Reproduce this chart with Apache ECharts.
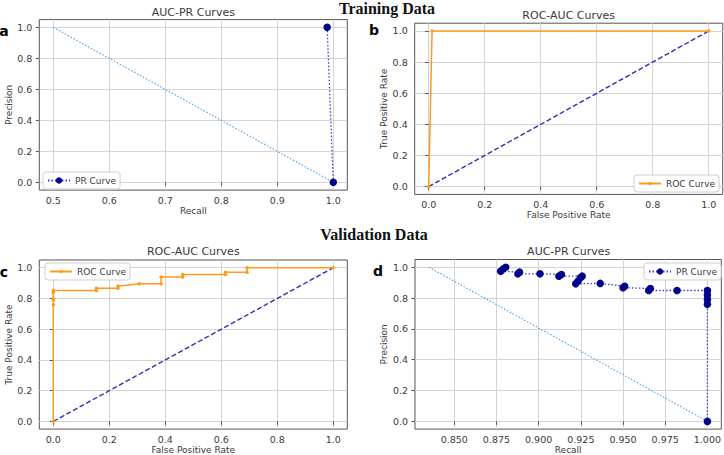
<!DOCTYPE html>
<html>
<head>
<meta charset="utf-8">
<script src="https://cdn.jsdelivr.net/npm/echarts@6/dist/echarts.min.js"></script>
<style>
html,body{margin:0;padding:0;background:#fff;}
#chart{width:724px;height:455px;}
</style>
</head>
<body>
<div id="chart"></div>
<script>
// ---------- data ----------
// Panel a: training PR curve
const aPrRecall = [0.989, 1.0];
const aPrPrecision = [1.0, 0.0];
const aRefRecall = [0.5, 1.0];
const aRefPrecision = [1.0, 0.0];
// Panel b: training ROC curve
const bRocFpr = [0.0, 0.012, 1.0];
const bRocTpr = [0.0, 1.0, 1.0];
// chance diagonal (b, c)
const diagFpr = [0.0, 1.0];
const diagTpr = [0.0, 1.0];
// Panel c: validation ROC curve
const cRocFpr = [0.0, 0.0, 0.0, 0.0, 0.0, 0.0, 0.154, 0.154, 0.231, 0.231, 0.308, 0.385, 0.385, 0.462, 0.462, 0.615, 0.615, 0.692, 0.692, 1.0];
const cRocTpr = [0.0, 0.759, 0.79, 0.80, 0.839, 0.852, 0.852, 0.866, 0.866, 0.88, 0.895, 0.895, 0.94, 0.94, 0.955, 0.955, 0.97, 0.97, 1.0, 1.0];
// Panel d: validation PR curve
const dPrRecall = [0.8805, 0.879, 0.8775, 0.8887, 0.8877, 0.9008, 0.9135, 0.912, 0.9258, 0.9248, 0.9234, 0.922, 0.9365, 0.951, 0.950, 0.9662, 0.9652, 0.982, 1.0, 1.0, 1.0, 1.0, 1.0];
const dPrPrecision = [1.0, 0.989, 0.974, 0.968, 0.957, 0.957, 0.953, 0.942, 0.942, 0.931, 0.910, 0.892, 0.895, 0.877, 0.867, 0.862, 0.849, 0.849, 0.849, 0.819, 0.791, 0.759, 0.0];
const dRefRecall = [0.835, 1.0];
const dRefPrecision = [1.0, 0.0];
// tick labels
const unitTicks = [0, 0.2, 0.4, 0.6, 0.8, 1.0];
const aRecallTicks = [0.5, 0.6, 0.7, 0.8, 0.9, 1.0];
const dRecallTicks = [0.85, 0.875, 0.9, 0.925, 0.95, 0.975, 1.0];
// texts
const panelTitles = ['AUC-PR Curves', 'ROC-AUC Curves', 'ROC-AUC Curves', 'AUC-PR Curves'];
const panelLetters = ['a', 'b', 'c', 'd'];
const sectionTitles = ['Training Data', 'Validation Data'];

// ---------- helpers ----------
function pairs(xs, ys) { return xs.map((x, i) => [x, ys[i]]); }
const TXT = '#3a3a3a';
const FONT = 'DejaVu Sans';

const grids = [
  {left: 39.3, top: 19.6, width: 308, height: 170.5},
  {left: 414.7, top: 23.2, width: 308, height: 171.2},
  {left: 39.3, top: 260, width: 308, height: 170.5},
  {left: 415, top: 259.5, width: 308, height: 171.6}
].map(g => Object.assign(g, {show: true, borderColor: '#555', borderWidth: 1, backgroundColor: '#fff', containLabel: false}));

function xAxis(gi, min, max, ticks, dec, name) {
  return {
    type: 'value', gridIndex: gi, min: min, max: max,
    name: name, nameLocation: 'middle', nameGap: 15,
    nameTextStyle: {fontFamily: FONT, fontSize: 9, color: TXT},
    axisLine: {show: false},
    axisTick: {show: true, inside: false, length: 3.5, customValues: ticks, lineStyle: {color: '#555', width: 1}},
    axisLabel: {customValues: ticks, margin: 5, fontFamily: FONT, fontSize: 9.5, color: TXT,
      formatter: v => Number(v).toFixed(dec)},
    splitLine: {show: true, lineStyle: {color: '#d4d4d4', width: 1}}
  };
}
function yAxis(gi, name) {
  return {
    type: 'value', gridIndex: gi, min: -0.05, max: 1.05,
    name: name, nameLocation: 'middle', nameGap: 25,
    nameTextStyle: {fontFamily: FONT, fontSize: 9, color: TXT},
    axisLine: {show: false},
    axisTick: {show: true, inside: false, length: 3.5, customValues: unitTicks, lineStyle: {color: '#555', width: 1}},
    axisLabel: {customValues: unitTicks, margin: 7, fontFamily: FONT, fontSize: 9.5, color: TXT,
      formatter: v => Number(v).toFixed(1)},
    splitLine: {show: true, lineStyle: {color: '#d4d4d4', width: 1}}
  };
}

const PR_LINE = '#3b3bd0', PR_MARK = '#00008b', REF = '#4aa0e0', ORANGE = '#ff9a1f', DIAG = '#2f2fb0';

function prSeries(gi, xs, ys) {
  return {
    type: 'line', name: 'PR Curve', xAxisIndex: gi, yAxisIndex: gi,
    data: pairs(xs, ys), symbol: 'circle', symbolSize: 7.5, showSymbol: true,
    lineStyle: {color: PR_LINE, width: 1.3, type: [1.5, 2]},
    itemStyle: {color: PR_MARK}, animation: false, z: 4
  };
}
function refSeries(gi, xs, ys) {
  return {
    type: 'line', name: 'ref' + gi, xAxisIndex: gi, yAxisIndex: gi,
    data: pairs(xs, ys), symbol: 'none',
    lineStyle: {color: REF, width: 1.1, type: [1.5, 1.8]}, animation: false, z: 2
  };
}
function rocSeries(gi, xs, ys) {
  return {
    type: 'line', name: 'ROC Curve', xAxisIndex: gi, yAxisIndex: gi,
    data: pairs(xs, ys), symbol: 'circle', symbolSize: 3.5, showSymbol: true,
    lineStyle: {color: ORANGE, width: 1.5}, itemStyle: {color: ORANGE}, animation: false, z: 4
  };
}
function diagSeries(gi) {
  return {
    type: 'line', name: 'diag' + gi, xAxisIndex: gi, yAxisIndex: gi,
    data: pairs(diagFpr, diagTpr), symbol: 'none',
    lineStyle: {color: DIAG, width: 1.4, type: [5, 2.5]}, animation: false, z: 3
  };
}

function legend(name, left, top, ih) {
  return {
    data: [name], left: left, top: top, orient: 'horizontal',
    padding: [3, 4, 3, 4], itemWidth: 22, itemHeight: ih, itemGap: 5,
    backgroundColor: '#fff', borderColor: '#cfcfcf', borderWidth: 1, borderRadius: 3,
    textStyle: {fontFamily: FONT, fontSize: 9, color: TXT, lineHeight: 11}, selectedMode: false
  };
}

const graphics = [];
const titlePos = [[193.3, 12], [568.7, 15], [193.3, 251.7], [568.7, 251.7]];
panelTitles.forEach((t, i) => graphics.push({type: 'text', x: titlePos[i][0], y: titlePos[i][1],
  style: {text: t, font: '11px "DejaVu Sans"', fill: TXT, textAlign: 'center', textVerticalAlign: 'middle'}}));
const letterPos = [[4, 31], [374, 30], [4, 272], [378, 271]];
panelLetters.forEach((t, i) => graphics.push({type: 'text', x: letterPos[i][0], y: letterPos[i][1],
  style: {text: t, font: 'bold 14px "DejaVu Sans"', fill: '#000', textAlign: 'center', textVerticalAlign: 'middle'}}));
const sectionPos = [[387, 8], [374, 234]];
sectionTitles.forEach((t, i) => graphics.push({type: 'text', x: sectionPos[i][0], y: sectionPos[i][1],
  style: {text: t, font: 'bold 16px "Liberation Serif"', fill: '#111', textAlign: 'center', textVerticalAlign: 'middle'}}));

const option = {
  backgroundColor: '#fff',
  animation: false,
  grid: grids,
  xAxis: [
    xAxis(0, 0.475, 1.025, aRecallTicks, 1, 'Recall'),
    xAxis(1, -0.05, 1.05, unitTicks, 1, 'False Positive Rate'),
    xAxis(2, -0.05, 1.05, unitTicks, 1, 'False Positive Rate'),
    xAxis(3, 0.82675, 1.00825, dRecallTicks, 3, 'Recall')
  ],
  yAxis: [yAxis(0, 'Precision'), yAxis(1, 'True Positive Rate'), yAxis(2, 'True Positive Rate'), yAxis(3, 'Precision')],
  legend: [
    legend('PR Curve', 43, 172, 8),
    legend('ROC Curve', 634, 175, 4),
    legend('ROC Curve', 45, 263, 4),
    legend('PR Curve', 644, 263, 8)
  ],
  series: [
    refSeries(0, aRefRecall, aRefPrecision),
    prSeries(0, aPrRecall, aPrPrecision),
    diagSeries(1),
    rocSeries(1, bRocFpr, bRocTpr),
    diagSeries(2),
    rocSeries(2, cRocFpr, cRocTpr),
    refSeries(3, dRefRecall, dRefPrecision),
    prSeries(3, dPrRecall, dPrPrecision)
  ],
  graphic: graphics
};

const chart = echarts.init(document.getElementById('chart'), null, {renderer: 'svg'});
chart.setOption(option);
</script>
</body>
</html>
